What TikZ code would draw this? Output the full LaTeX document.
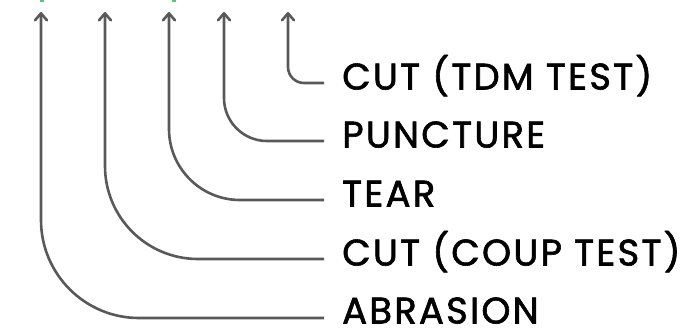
\documentclass[tikz,border=0pt]{standalone}
\usepackage{fontspec}
\setmainfont{Poppins}[FakeBold=1.6,LetterSpace=6]
\usetikzlibrary{arrows.meta}
\definecolor{linegray}{HTML}{595959}
\definecolor{markgreen}{HTML}{5AC47C}
\tikzset{
  conn/.style={draw=linegray, line width=2.6pt, line join=round,
    -{Straight Barb[length=7pt,width=12pt,line width=2.6pt,round]}},
  lab/.style={anchor=base west, inner sep=0pt, font=\fontsize{37}{42}\selectfont, text=black},
}
\begin{document}
\begin{tikzpicture}[x=1pt,y=-1pt]
\useasboundingbox (0,0) rectangle (690,330);
% tiny green fragments at top edge
\fill[markgreen] (39.5,0) rectangle (43.5,2);
\fill[markgreen] (171.5,0) rectangle (175.5,2);
% arrow tips
\coordinate (t1) at (288,12);
\coordinate (t2) at (224,12);
\coordinate (t3) at (169,12);
\coordinate (t4) at (105,12);
\coordinate (t5) at (41,12);
% line ends
\coordinate (e1) at (324,83);
\coordinate (e2) at (324,141);
\coordinate (e3) at (324,200);
\coordinate (e4) at (324,259);
\coordinate (e5) at (324,318);
% labels
\node[lab] (l1) at (342,89.5) {CUT (TDM TEST)};
\node[lab] (l2) at (342,147.5) {PUNCTURE};
\node[lab] (l3) at (342,206.5) {TEAR};
\node[lab] (l4) at (342,265.5) {CUT (COUP TEST)};
\node[lab] (l5) at (342,323.5) {ABRASION};
% connectors
\draw[conn, rounded corners=16pt] (e1) -| (t1);
\draw[conn, rounded corners=43pt] (e2) -| (t2);
\draw[conn, rounded corners=71pt] (e3) -| (t3);
\draw[conn, rounded corners=93pt] (e4) -| (t4);
\draw[conn, rounded corners=98pt] (e5) -| (t5);
\end{tikzpicture}
\end{document}
